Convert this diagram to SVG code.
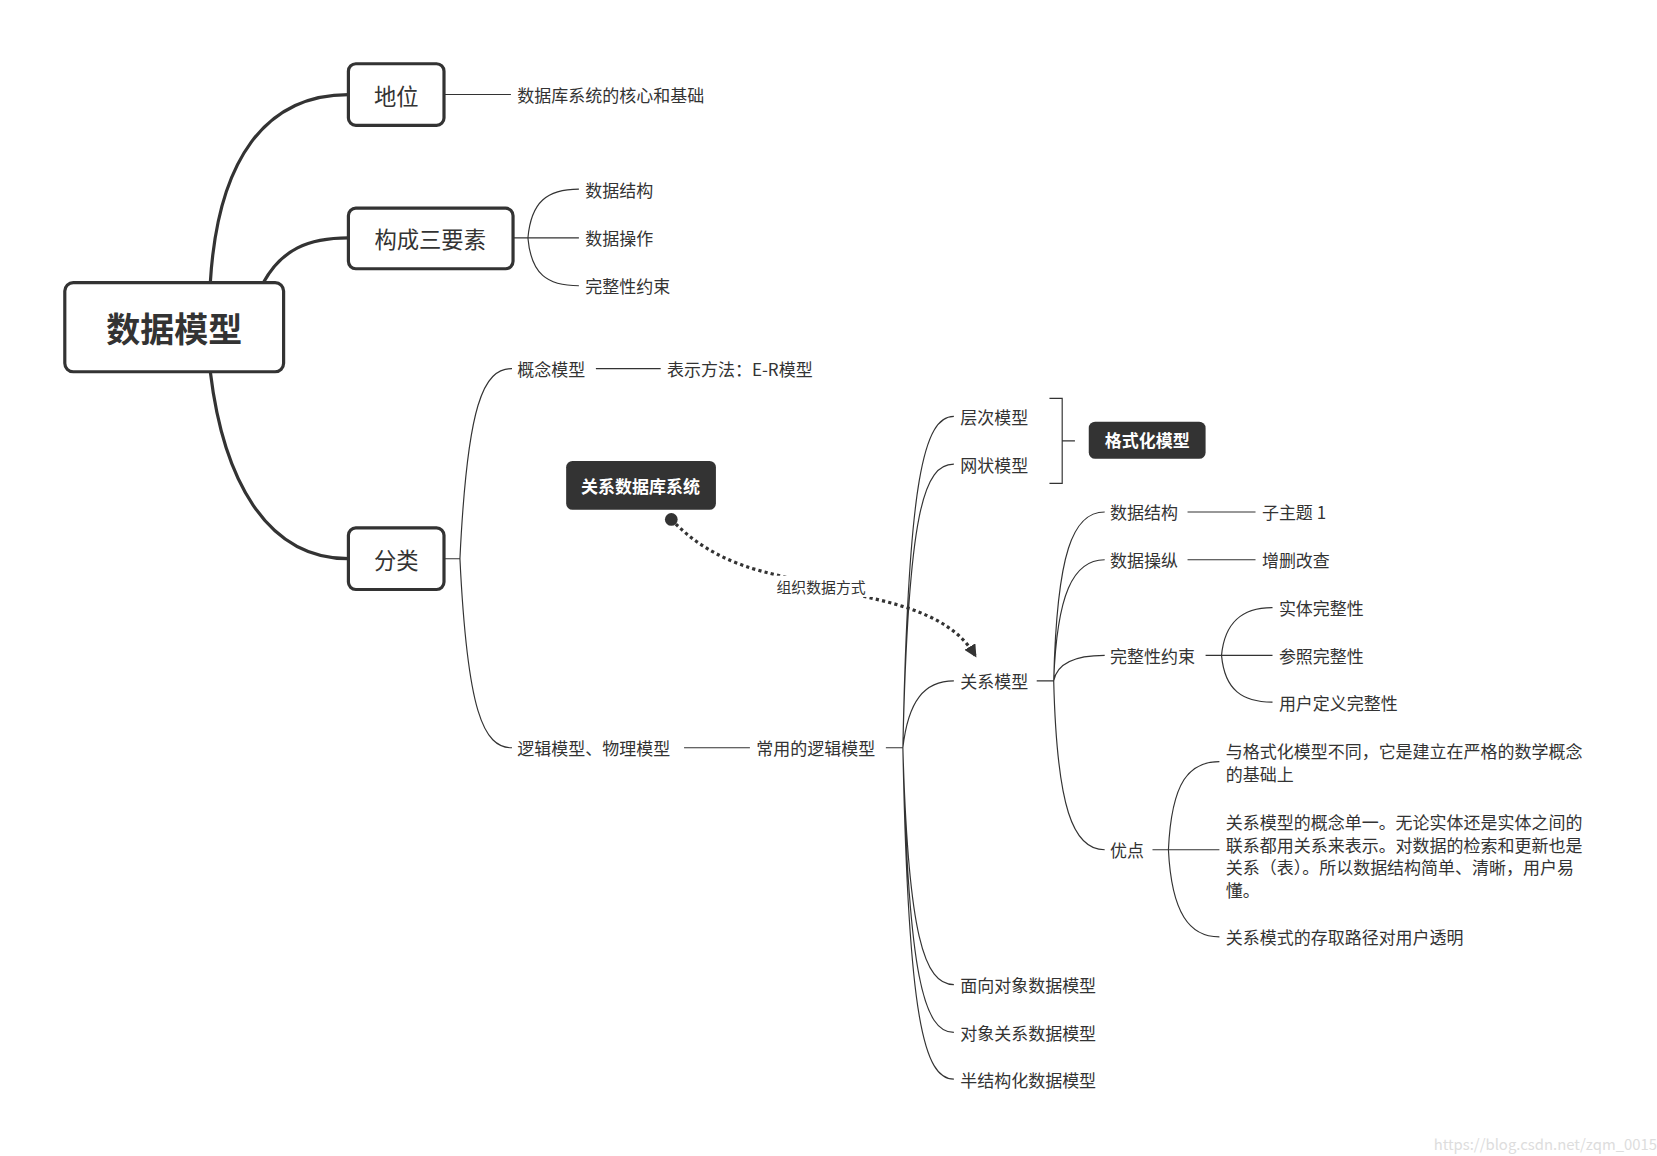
<svg xmlns="http://www.w3.org/2000/svg" width="1657" height="1156" viewBox="0 0 1657 1156">
<style>
text{font-family:"Noto Sans CJK SC","Liberation Sans",sans-serif;fill:#333;dominant-baseline:central}
.t{font-size:16px}
.m{font-size:21px;text-anchor:middle}
.d{font-size:16px;font-weight:bold;fill:#fff;text-anchor:middle}
.box{fill:#fff;stroke:#333;stroke-width:3}
.dark{fill:#333}
.thick{fill:none;stroke:#333;stroke-width:3}
.thin{fill:none;stroke:#333;stroke-width:1.1}
</style>
<defs><marker id="ah" viewBox="0 0 10 10" refX="8" refY="5" markerWidth="4" markerHeight="4" orient="auto"><path d="M0,0L10,5L0,10z" fill="#333"/></marker></defs>
<rect width="1657" height="1156" fill="#fff"/>
<g transform="scale(1.0622)">
<g id="connectors">
<path class="thick" d="M198,266 C205,150 250,89 328,89"/>
<path class="thick" d="M248,266 C265,235 290,224 328,224"/>
<path class="thick" d="M198,350 C210,450 250,526 328,526"/>
<path class="thin" d="M418,89 H481"/>
<path class="thin" d="M483,224 H545 M497,224 C500,190 515,178 545,178 M497,224 C500,258 515,269 545,269"/>
<path class="thin" d="M418,526 H433 M433,526 C440,380 455,347 482,347 M433,526 C440,670 455,704 482,704"/>
<path class="thin" d="M561,347 H622 M644,704 H706 M834,704 H850"/>
<path class="thin" d="M850,704 C855,450 870,392 898,392 M850,704 C855,480 870,437 898,437 M850,704 C855,660 870,641 898,641 M850,704 C855,880 870,927 898,927 M850,704 C855,920 870,972 898,972 M850,704 C855,960 870,1016 898,1016"/>
<path class="thin" d="M988,375 H1000 V455 H988 M1000,415 H1012" stroke-width="2"/>
<path class="thin" d="M976,641 H992 M992,641 C995,520 1010,482 1040,482 M992,641 C995,560 1010,527 1040,527 M992,641 C995,625 1010,617 1040,617 M992,641 C995,760 1010,800 1040,800"/>
<path class="thin" d="M1118,482 H1182 M1118,527 H1182"/>
<path class="thin" d="M1135,617 H1198 M1150,617 C1153,585 1170,572 1198,572 M1150,617 C1153,650 1170,661 1198,661"/>
<path class="thin" d="M1085,800 H1148 M1100,800 C1103,735 1120,717 1148,717 M1100,800 C1103,860 1120,882 1148,882"/>
<path d="M632,489 C680,540 740,540 773,552 C820,565 890,570 918,617" fill="none" stroke="#333" stroke-width="3" stroke-dasharray="3 3" marker-end="url(#ah)"/>
<circle cx="632" cy="489" r="6" fill="#333"/>
<rect x="724" y="542" width="98" height="20" fill="#fff"/>
<text x="773" y="552" font-size="14" text-anchor="middle">组织数据方式</text>
</g>
<g id="root"><rect class="box" x="61" y="266" width="206" height="84" rx="8"/><text x="164" y="308" font-size="32" font-weight="bold" text-anchor="middle">数据模型</text></g>
<g id="n-diwei"><rect class="box" x="328" y="60" width="90" height="58" rx="7"/><text class="m" x="373" y="89">地位</text></g>
<g id="n-goucheng"><rect class="box" x="328" y="196" width="155" height="57" rx="7"/><text class="m" x="405" y="224">构成三要素</text></g>
<g id="n-fenlei"><rect class="box" x="328" y="497" width="90" height="58" rx="7"/><text class="m" x="373" y="526">分类</text></g>
<g id="leaf1"><text class="t" x="487" y="89">数据库系统的核心和基础</text></g>
<g id="leaf2"><text class="t" x="551" y="178">数据结构</text><text class="t" x="551" y="224">数据操作</text><text class="t" x="551" y="269">完整性约束</text></g>
<g id="n-gainian"><text class="t" x="487" y="347">概念模型</text><text class="t" x="628" y="347">表示方法：E-R模型</text></g>
<g id="n-luoji"><text class="t" x="487" y="704">逻辑模型、物理模型</text><text class="t" x="712" y="704">常用的逻辑模型</text></g>
<g id="n-models"><text class="t" x="904" y="392">层次模型</text><text class="t" x="904" y="437">网状模型</text><text class="t" x="904" y="641">关系模型</text><text class="t" x="904" y="927">面向对象数据模型</text><text class="t" x="904" y="972">对象关系数据模型</text><text class="t" x="904" y="1016">半结构化数据模型</text></g>
<g id="n-geshi"><rect class="dark" x="1025" y="397" width="110" height="35" rx="6"/><text class="d" x="1080" y="414">格式化模型</text></g>
<g id="n-guanxi-db"><rect class="dark" x="533" y="434" width="141" height="46" rx="6"/><text class="d" x="603" y="457">关系数据库系统</text></g>
<g id="n-rel"><text class="t" x="1045" y="482">数据结构</text><text class="t" x="1188" y="482">子主题 1</text><text class="t" x="1045" y="527">数据操纵</text><text class="t" x="1188" y="527">增删改查</text><text class="t" x="1045" y="617">完整性约束</text><text class="t" x="1204" y="572">实体完整性</text><text class="t" x="1204" y="617">参照完整性</text><text class="t" x="1204" y="661">用户定义完整性</text><text class="t" x="1045" y="800">优点</text></g>
<g id="n-adv"><text class="t" x="1154" y="707">与格式化模型不同，它是建立在严格的数学概念</text><text class="t" x="1154" y="728">的基础上</text><text class="t" x="1154" y="773">关系模型的概念单一。无论实体还是实体之间的</text><text class="t" x="1154" y="795">联系都用关系来表示。对数据的检索和更新也是</text><text class="t" x="1154" y="816">关系（表）。所以数据结构简单、清晰，用户易</text><text class="t" x="1154" y="837">懂。</text><text class="t" x="1154" y="882">关系模式的存取路径对用户透明</text></g>
<text x="1560" y="1077" font-size="14" text-anchor="end" style="fill:#ddd">https://blog.csdn.net/zqm_0015</text>
</g>
</svg>
